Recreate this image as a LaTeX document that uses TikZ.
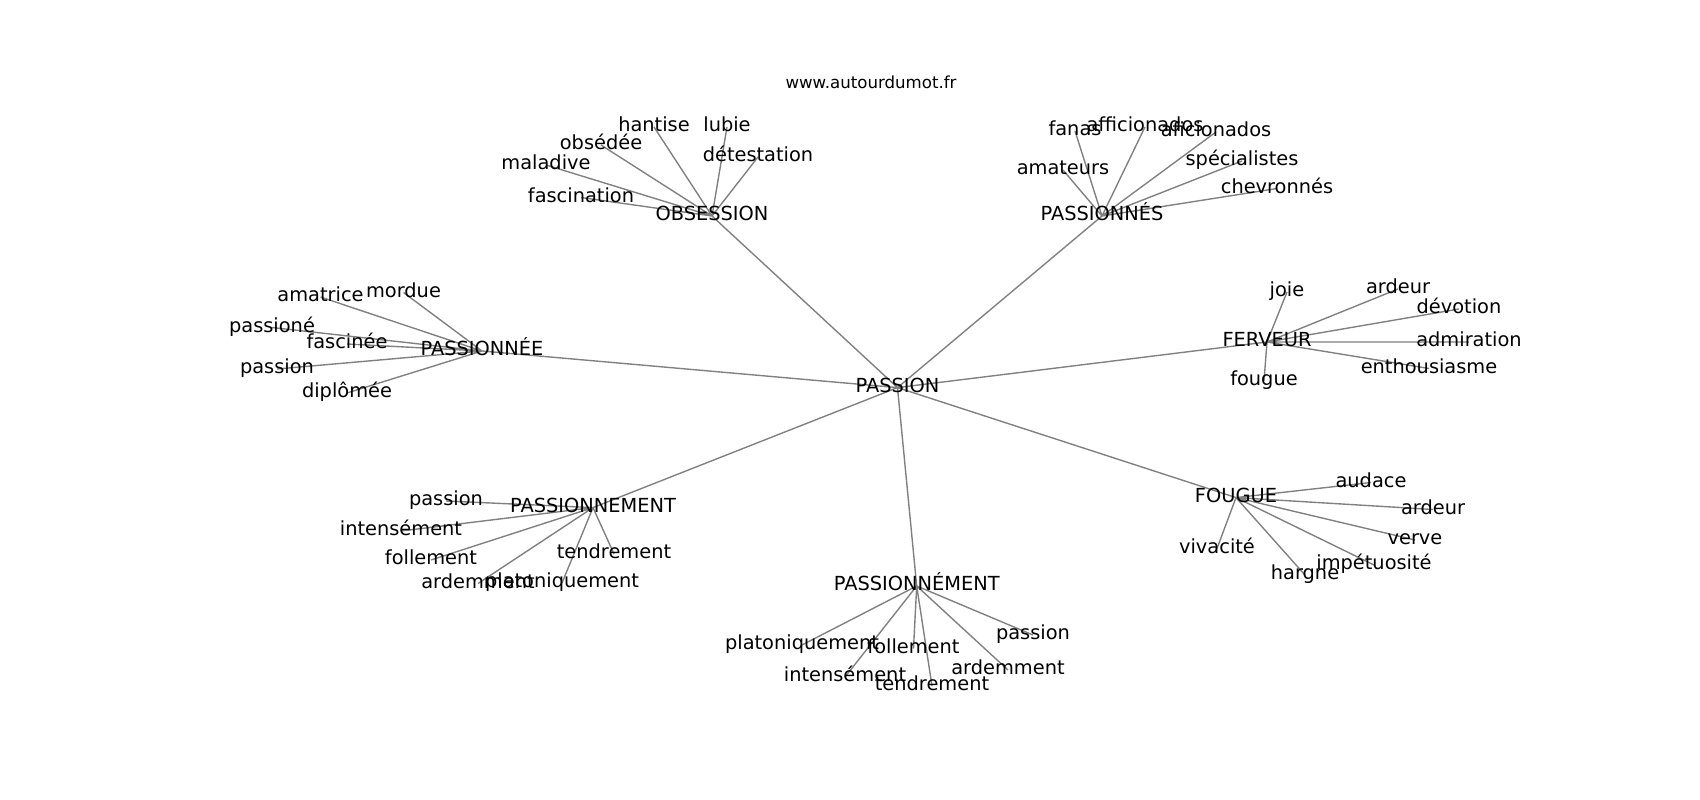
\documentclass[tikz,border=0pt]{standalone}
\usepackage{fontspec}
\setmainfont{DejaVu Sans}
\usepackage{tikz}
\usetikzlibrary{backgrounds}
\usepackage{xcolor}
\definecolor{edgegray}{RGB}{128,128,128}
\tikzstyle{word} = [inner sep=0pt, font=\fontsize{14}{17}\selectfont, text height=10.6pt, text depth=3.4pt, text=black]
\tikzstyle{site} = [inner sep=0pt, font=\fontsize{12}{14}\selectfont, text height=9.1pt, text depth=2.9pt, text=black]
\tikzstyle{link} = [line width=1pt, color=edgegray]

\begin{document}
\begin{tikzpicture}[x=0.01in, y=-0.01in]
\useasboundingbox (0,0) rectangle (1700,800);

% Source
\node[site] (site) at (871,84) {www.autourdumot.fr};

% Centre and sub-hubs
\node[word] (pas) at (897.5,387.6) {PASSION};
\node[word] (obs) at (712,216) {OBSESSION};
\node[word] (pss) at (1102,216) {PASSIONNÉS};
\node[word] (pse) at (482,351) {PASSIONNÉE};
\node[word] (fer) at (1267,342) {FERVEUR};
\node[word] (pnt) at (593,507.6) {PASSIONNEMENT};
\node[word] (pmt) at (916.7,586) {PASSIONNÉMENT};
\node[word] (fou) at (1236,497.6) {FOUGUE};

% Obsession
\node[word] (obs1) at (654,127) {hantise};
\node[word] (obs2) at (727,127) {lubie};
\node[word] (obs3) at (601,145) {obsédée};
\node[word] (obs4) at (758,157) {détestation};
\node[word] (obs5) at (546,165) {maladive};
\node[word] (obs6) at (581,197.5) {fascination};

% Passionnes
\node[word] (pss1) at (1075,131) {fanas};
\node[word] (pss2) at (1145,127) {afficionados};
\node[word] (pss3) at (1216,132) {aficionados};
\node[word] (pss4) at (1063,170) {amateurs};
\node[word] (pss5) at (1242,161) {spécialistes};
\node[word] (pss6) at (1277,188.5) {chevronnés};

% Passionnee
\node[word] (pse1) at (320.5,297) {amatrice};
\node[word] (pse2) at (403.5,292.5) {mordue};
\node[word] (pse3) at (272,327.5) {passioné};
\node[word] (pse4) at (347,344) {fascinée};
\node[word] (pse5) at (277,369) {passion};
\node[word] (pse6) at (347,393) {diplômée};

% Ferveur
\node[word] (fer1) at (1287,292) {joie};
\node[word] (fer2) at (1398,289) {ardeur};
\node[word] (fer3) at (1459,309) {dévotion};
\node[word] (fer4) at (1469,342) {admiration};
\node[word] (fer5) at (1429,368.5) {enthousiasme};
\node[word] (fer6) at (1264,381) {fougue};

% Passionnement
\node[word] (pnt1) at (446,501) {passion};
\node[word] (pnt2) at (401,531) {intensément};
\node[word] (pnt3) at (431,560) {follement};
\node[word] (pnt4) at (478,583.5) {ardemment};
\node[word] (pnt5) at (562,583) {platoniquement};
\node[word] (pnt6) at (614,554) {tendrement};

% Passionnément
\node[word] (pmt1) at (802,645) {platoniquement};
\node[word] (pmt2) at (913.5,648.5) {follement};
\node[word] (pmt3) at (1033,635) {passion};
\node[word] (pmt4) at (1008,670) {ardemment};
\node[word] (pmt5) at (845,677) {intensément};
\node[word] (pmt6) at (932,686) {tendrement};

% Fougue
\node[word] (fou1) at (1371,482.5) {audace};
\node[word] (fou2) at (1433,509.5) {ardeur};
\node[word] (fou3) at (1415,540) {verve};
\node[word] (fou4) at (1374,565) {impétuosité};
\node[word] (fou5) at (1305,575) {hargne};
\node[word] (fou6) at (1217,548.5) {vivacité};

% Edges behind the words
\begin{scope}[on background layer]
\draw[link] (pas.center) -- (obs.center) (pas.center) -- (pss.center) (pas.center) -- (pse.center) (pas.center) -- (fer.center) (pas.center) -- (pnt.center) (pas.center) -- (pmt.center) (pas.center) -- (fou.center);
\draw[link] (obs.center) -- (obs1.center) (obs.center) -- (obs2.center) (obs.center) -- (obs3.center) (obs.center) -- (obs4.center) (obs.center) -- (obs5.center) (obs.center) -- (obs6.center);
\draw[link] (pss.center) -- (pss1.center) (pss.center) -- (pss2.center) (pss.center) -- (pss3.center) (pss.center) -- (pss4.center) (pss.center) -- (pss5.center) (pss.center) -- (pss6.center);
\draw[link] (pse.center) -- (pse1.center) (pse.center) -- (pse2.center) (pse.center) -- (pse3.center) (pse.center) -- (pse4.center) (pse.center) -- (pse5.center) (pse.center) -- (pse6.center);
\draw[link] (fer.center) -- (fer1.center) (fer.center) -- (fer2.center) (fer.center) -- (fer3.center) (fer.center) -- (fer4.center) (fer.center) -- (fer5.center) (fer.center) -- (fer6.center);
\draw[link] (pnt.center) -- (pnt1.center) (pnt.center) -- (pnt2.center) (pnt.center) -- (pnt3.center) (pnt.center) -- (pnt4.center) (pnt.center) -- (pnt5.center) (pnt.center) -- (pnt6.center);
\draw[link] (pmt.center) -- (pmt1.center) (pmt.center) -- (pmt2.center) (pmt.center) -- (pmt3.center) (pmt.center) -- (pmt4.center) (pmt.center) -- (pmt5.center) (pmt.center) -- (pmt6.center);
\draw[link] (fou.center) -- (fou1.center) (fou.center) -- (fou2.center) (fou.center) -- (fou3.center) (fou.center) -- (fou4.center) (fou.center) -- (fou5.center) (fou.center) -- (fou6.center);
\end{scope}
\end{tikzpicture}
\end{document}
